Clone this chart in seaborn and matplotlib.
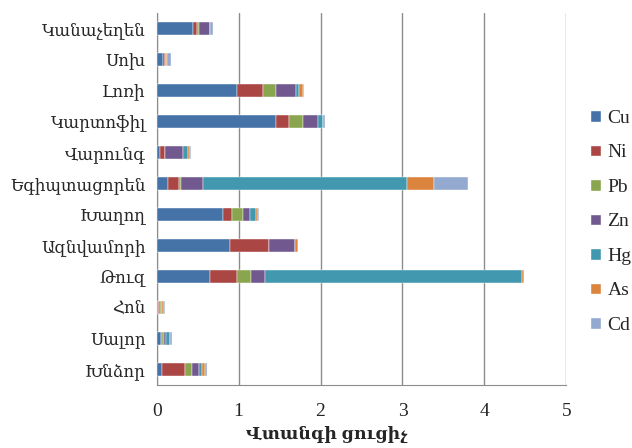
import numpy as np
import pandas as pd
import matplotlib
matplotlib.use("Agg")
import matplotlib.pyplot as plt
import seaborn as sns
from matplotlib.patches import Patch

crops = ["Կանաչեղեն", "Սոխ", "Լոռի", "Կարտոֆիլ", "Վարունգ", "Եգիպտացորեն",
         "Խաղող", "Ազնվամորի", "Թուզ", "Հոն", "Սալոր", "Խնձոր"]
metals = ["Cu", "Ni", "Pb", "Zn", "Hg", "As", "Cd"]

cu = [0.44, 0.08, 0.98, 1.46, 0.04, 0.14, 0.81, 0.90, 0.65, 0.02, 0.05, 0.07]
ni = [0.05, 0.02, 0.32, 0.16, 0.06, 0.13, 0.11, 0.47, 0.33, 0.01, 0.02, 0.27]
pb = [0.02, 0.005, 0.15, 0.165, 0.005, 0.03, 0.135, 0.0, 0.17, 0.02, 0.02, 0.09]
zn = [0.14, 0.01, 0.25, 0.185, 0.22, 0.26, 0.085, 0.32, 0.175, 0.01, 0.02, 0.085]
hg = [0.0, 0.0, 0.035, 0.06, 0.055, 2.49, 0.07, 0.0, 3.14, 0.01, 0.05, 0.035]
as_ = [0.005, 0.01, 0.05, 0.0, 0.03, 0.335, 0.03, 0.03, 0.02, 0.02, 0.0, 0.045]
cd = [0.03, 0.05, 0.015, 0.02, 0.005, 0.41, 0.005, 0.0, 0.005, 0.005, 0.025, 0.02]

colors = ["#4572A7", "#AA4643", "#89A54E", "#71588F", "#4198AF", "#DB843D", "#93A9CF"]

sns.set_style("white")
plt.rcParams["font.family"] = ["Liberation Serif", "DejaVu Serif"]

df = pd.DataFrame({"crop": crops, "Cu": cu, "Ni": ni, "Pb": pb, "Zn": zn,
                   "Hg": hg, "As": as_, "Cd": cd})

fig, ax = plt.subplots(figsize=(6.32, 4.48), dpi=100)
fig.subplots_adjust(left=0.248, right=0.896, top=0.971, bottom=0.141)

# stacked bars: one barplot per metal, shifted by the running total
left = np.zeros(len(crops))
for m, c in zip(metals, colors):
    sns.barplot(data=df, x=m, y="crop", order=crops, orient="h", color=c,
                saturation=1, width=0.42, left=left, ax=ax,
                edgecolor="white", linewidth=0.3, zorder=3)
    left = left + df[m].values

ax.set_xlim(0, 5)
ax.set_ylim(11.5, -0.5)
ax.set_xticks([0, 1, 2, 3, 4, 5])
ax.xaxis.grid(True, color="#8c8c8c", linewidth=1)
ax.yaxis.grid(False)
for s in ["top", "right"]:
    ax.spines[s].set_visible(False)
for s in ["left", "bottom"]:
    ax.spines[s].set_color("#8c8c8c")

ax.set_yticks(np.arange(-0.5, 12, 1), minor=True)
ax.tick_params(axis="y", which="major", length=0, labelsize=12, pad=8)
ax.tick_params(axis="y", which="minor", length=5, color="#8c8c8c", direction="out")
ax.tick_params(axis="x", length=5, color="#8c8c8c", labelsize=14, pad=8,
               direction="out")

ax.set_ylabel("")
ax.set_xlabel("Վտանգի ցուցիչ", fontsize=12.5, fontweight="bold")
ax.xaxis.set_label_coords(0.416, -0.11)

handles = [Patch(facecolor=c, label=m) for m, c in zip(metals, colors)]
ax.legend(handles=handles, loc="center left", bbox_to_anchor=(1.058, 0.438),
          frameon=False, fontsize=14, handlelength=0.55, handleheight=0.55,
          handletextpad=0.35, labelspacing=0.9, borderaxespad=0, borderpad=0)

fig.savefig("out.png", dpi=100)
